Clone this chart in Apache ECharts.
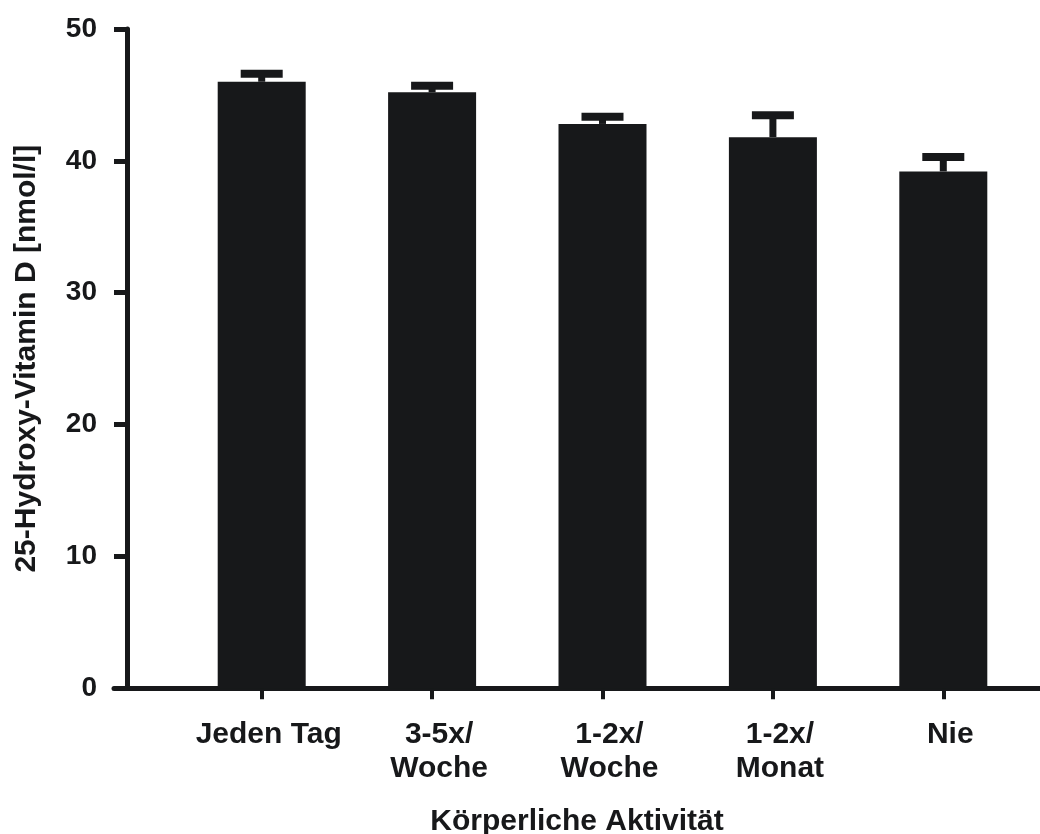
<!DOCTYPE html>
<html>
<head>
<meta charset="utf-8">
<script src="https://cdn.jsdelivr.net/npm/echarts@6/dist/echarts.min.js"></script>
<style>
  html, body { margin: 0; padding: 0; background: #ffffff; }
  #chart { width: 1040px; height: 834px; }
</style>
</head>
<body>
<div id="chart"></div>
<script>
// Activity groups
const categories = ['Jeden Tag', '3-5x/\nWoche', '1-2x/\nWoche', '1-2x/\nMonat', 'Nie'];
// Mean 25-hydroxy-vitamin D per group [nmol/l]
const means = [46.0, 45.2, 42.8, 41.8, 39.2];
// Standard error (upper whisker)
const sems = [0.6, 0.5, 0.55, 1.65, 1.1];
// Y-axis scale
const yTicks = [0, 10, 20, 30, 40, 50];

const INK = '#17181a';
const FONT = "'Liberation Sans', Arial, Helvetica, sans-serif";

const chart = echarts.init(document.getElementById('chart'), null, { renderer: 'canvas' });

const errData = means.map((m, i) => [i, m, m + sems[i]]);

chart.setOption({
  animation: false,
  backgroundColor: '#ffffff',
  grid: [
    // bars and y axis
    { left: 176.5, right: 11.5, top: 29, bottom: 145.7, containLabel: false, outerBoundsMode: 'none' },
    // full-width baseline and x axis title
    { left: 114, right: 0, top: 29, bottom: 145.7, containLabel: false, outerBoundsMode: 'none' }
  ],
  xAxis: [
    {
      type: 'category',
      gridIndex: 0,
      data: categories,
      boundaryGap: true,
      axisLine: { show: false },
      axisTick: { show: true, alignWithLabel: true, length: 11, lineStyle: { color: INK, width: 4 } },
      axisLabel: {
        interval: 0, margin: 29, color: INK, fontFamily: FONT,
        fontSize: 30, fontWeight: 'bold', lineHeight: 34, align: 'center',
        padding: [0, 0, 0, 14]
      },
      splitLine: { show: false }
    },
    {
      type: 'value',
      gridIndex: 1,
      min: 0, max: 1,
      axisLine: { show: true, onZero: false, lineStyle: { color: INK, width: 5 } },
      axisTick: { show: false },
      axisLabel: { show: false },
      splitLine: { show: false },
      name: 'Körperliche Aktivität',
      nameLocation: 'middle',
      nameGap: 118,
      nameTextStyle: { color: INK, fontFamily: FONT, fontSize: 30, fontWeight: 'bold' }
    }
  ],
  yAxis: [
    {
      type: 'value',
      gridIndex: 0,
      min: yTicks[0],
      max: yTicks[yTicks.length - 1],
      interval: 10,
      offset: 49.5,
      axisLine: { show: true, lineStyle: { color: INK, width: 5 } },
      axisTick: { show: true, length: 13, lineStyle: { color: INK, width: 5 } },
      axisLabel: { margin: 30, color: INK, fontFamily: FONT, fontSize: 28, fontWeight: 'bold' },
      splitLine: { show: false },
      name: '25-Hydroxy-Vitamin D [nmol/l]',
      nameLocation: 'middle',
      nameGap: 85,
      nameTextStyle: { color: INK, fontFamily: FONT, fontSize: 30, fontWeight: 'bold' }
    },
    {
      type: 'value',
      gridIndex: 1,
      min: 0, max: 50,
      show: false
    }
  ],
  series: [
    {
      type: 'bar',
      xAxisIndex: 0,
      yAxisIndex: 0,
      data: means,
      barWidth: 88,
      itemStyle: { color: INK },
      z: 2
    },
    {
      type: 'custom',
      xAxisIndex: 0,
      yAxisIndex: 0,
      data: errData,
      z: 3,
      renderItem: function (params, api) {
        const i = api.value(0);
        const base = api.coord([i, api.value(1)]);
        const top = api.coord([i, api.value(2)]);
        const capHalf = 21;
        return {
          type: 'group',
          children: [
            {
              type: 'line',
              shape: { x1: base[0], y1: base[1], x2: top[0], y2: top[1] },
              style: { stroke: INK, lineWidth: 7 }
            },
            {
              type: 'line',
              shape: { x1: top[0] - capHalf, y1: top[1], x2: top[0] + capHalf, y2: top[1] },
              style: { stroke: INK, lineWidth: 8 }
            }
          ]
        };
      }
    }
  ]
});
</script>
</body>
</html>
